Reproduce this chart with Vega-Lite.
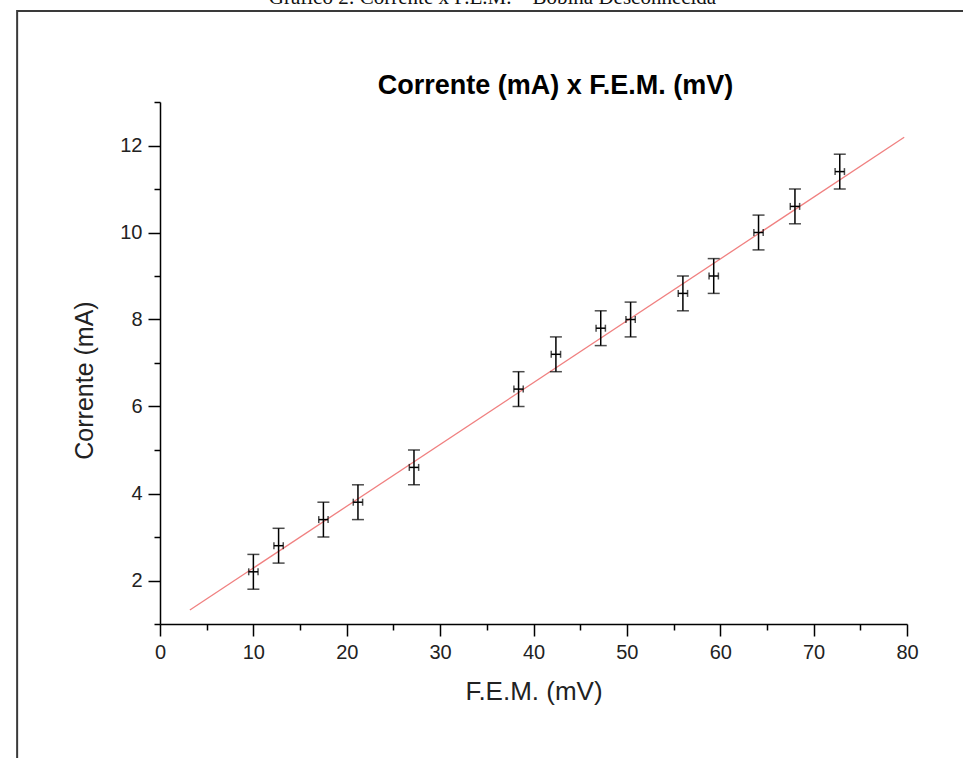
{
  "$schema": "https://vega.github.io/schema/vega-lite/v6.json",
  "width": 747,
  "height": 522,
  "autosize": {"type": "none"},
  "padding": {"left": 160, "top": 102, "right": 56, "bottom": 134},
  "background": "white",
  "config": {"view": {"stroke": null}, "font": "Liberation Sans"},
  "title": {
    "text": "Gráfico 2: Corrente x F.E.M. – Bobina Desconhecida",
    "font": "Liberation Serif",
    "fontSize": 21,
    "fontWeight": "normal",
    "color": "#111111",
    "anchor": "middle",
    "dx": -41,
    "dy": 15,
    "baseline": "alphabetic",
    "offset": 0
  },
  "datasets": {
    "medidas": [
      {"fem": 10.0, "corrente": 2.2, "ex": 0.5, "ey": 0.4},
      {"fem": 12.7, "corrente": 2.8, "ex": 0.5, "ey": 0.4},
      {"fem": 17.5, "corrente": 3.4, "ex": 0.5, "ey": 0.4},
      {"fem": 21.2, "corrente": 3.8, "ex": 0.5, "ey": 0.4},
      {"fem": 27.2, "corrente": 4.6, "ex": 0.5, "ey": 0.4},
      {"fem": 38.4, "corrente": 6.4, "ex": 0.5, "ey": 0.4},
      {"fem": 42.4, "corrente": 7.2, "ex": 0.5, "ey": 0.4},
      {"fem": 47.2, "corrente": 7.8, "ex": 0.5, "ey": 0.4},
      {"fem": 50.4, "corrente": 8.0, "ex": 0.5, "ey": 0.4},
      {"fem": 56.0, "corrente": 8.6, "ex": 0.5, "ey": 0.4},
      {"fem": 59.3, "corrente": 9.0, "ex": 0.5, "ey": 0.4},
      {"fem": 64.1, "corrente": 10.0, "ex": 0.5, "ey": 0.4},
      {"fem": 68.0, "corrente": 10.6, "ex": 0.5, "ey": 0.4},
      {"fem": 72.8, "corrente": 11.4, "ex": 0.5, "ey": 0.4}
    ],
    "ajuste": [
      {"fem": 3.2, "corrente": 1.32},
      {"fem": 79.7, "corrente": 12.19}
    ],
    "moldura": [
      {"x1": -15.3, "x2": 100, "y1": 15.09, "y2": -4}
    ]
  },
  "resolve": {"axis": {"x": "independent"}},
  "layer": [
    {
      "data": {"name": "moldura"},
      "mark": {"type": "rect", "filled": false, "stroke": "#3a3a3a", "strokeWidth": 2, "clip": false},
      "encoding": {
        "x": {"field": "x1", "type": "quantitative", "scale": {"domain": [0, 80], "nice": false, "zero": false}, "axis": null},
        "x2": {"field": "x2"},
        "y": {"field": "y1", "type": "quantitative", "scale": {"domain": [1, 13], "nice": false, "zero": false}},
        "y2": {"field": "y2"}
      }
    },
    {
      "data": {"name": "ajuste"},
      "mark": {"type": "line", "color": "#f08080", "strokeWidth": 1.3},
      "encoding": {
        "x": {
          "field": "fem", "type": "quantitative",
          "scale": {"domain": [0, 80], "nice": false, "zero": false},
          "axis": {
            "orient": "top",
            "title": "Corrente (mA) x F.E.M. (mV)",
            "domain": false, "ticks": false, "labels": false, "grid": false,
            "titleFont": "Liberation Sans", "titleFontSize": 27, "titleFontWeight": "bold",
            "titleColor": "#000000", "titleX": 395, "titleY": -9,
            "titleBaseline": "alphabetic", "titleAlign": "center", "titleAngle": 0
          }
        },
        "y": {"field": "corrente", "type": "quantitative", "scale": {"domain": [1, 13], "nice": false, "zero": false}}
      }
    },
    {
      "data": {"name": "medidas"},
      "mark": {"type": "errorbar", "color": "#000000", "ticks": {"size": 12, "thickness": 1.5}, "rule": {"strokeWidth": 1.5}},
      "encoding": {
        "x": {
          "field": "fem", "type": "quantitative",
          "scale": {"domain": [0, 80], "nice": false, "zero": false},
          "axis": {
            "orient": "bottom",
            "values": [0, 5, 10, 15, 20, 25, 30, 35, 40, 45, 50, 55, 60, 65, 70, 75, 80],
            "labelExpr": "datum.value % 10 === 0 ? datum.label : ''",
            "title": "F.E.M. (mV)", "grid": false,
            "domainColor": "#000000", "domainWidth": 1.5,
            "tickColor": "#000000", "tickWidth": 1.5,
            "tickSize": {"condition": {"test": "datum.value % 10 === 0", "value": 12}, "value": 6},
            "labelFontSize": 20, "labelColor": "#222222", "labelPadding": 6, "labelFlush": false,
            "titleFontSize": 26, "titleFontWeight": "normal", "titleColor": "#222222",
            "titleY": 75, "titleBaseline": "alphabetic"
          }
        },
        "y": {
          "field": "corrente", "type": "quantitative",
          "scale": {"domain": [1, 13], "nice": false, "zero": false},
          "axis": {
            "values": [1, 2, 3, 4, 5, 6, 7, 8, 9, 10, 11, 12, 13],
            "labelExpr": "datum.value % 2 === 0 ? datum.label : ''",
            "title": "Corrente (mA)", "grid": false,
            "domainColor": "#000000", "domainWidth": 1.5,
            "tickColor": "#000000", "tickWidth": 1.5,
            "tickSize": {"condition": {"test": "datum.value % 2 === 0", "value": 12}, "value": 6},
            "labelFontSize": 20, "labelColor": "#222222", "labelPadding": 6, "labelFlush": false,
            "titleFontSize": 25, "titleFontWeight": "normal", "titleColor": "#222222",
            "titleX": -68, "titleY": 278, "titleBaseline": "alphabetic", "titleAlign": "center"
          }
        },
        "yError": {"field": "ey"}
      }
    },
    {
      "data": {"name": "medidas"},
      "mark": {"type": "errorbar", "color": "#000000", "ticks": {"size": 7, "thickness": 1.5}, "rule": {"strokeWidth": 1.5}},
      "encoding": {
        "x": {"field": "fem", "type": "quantitative", "scale": {"domain": [0, 80], "nice": false, "zero": false}, "axis": null},
        "xError": {"field": "ex"},
        "y": {"field": "corrente", "type": "quantitative", "scale": {"domain": [1, 13], "nice": false, "zero": false}}
      }
    }
  ]
}
